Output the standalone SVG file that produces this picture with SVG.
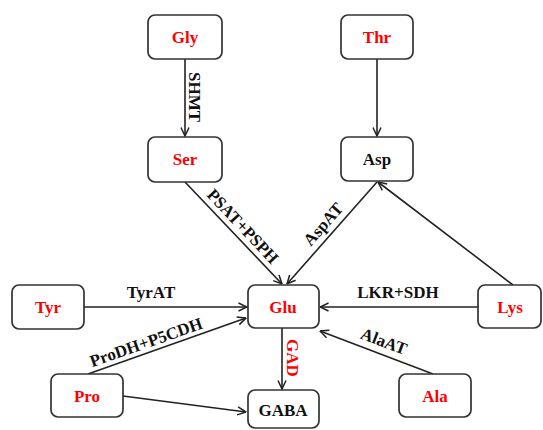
<svg xmlns="http://www.w3.org/2000/svg" width="543" height="430" viewBox="0 0 543 430">
<defs>
<marker id="ah" viewBox="0 0 10 10" refX="9.5" refY="5" markerWidth="10" markerHeight="10" markerUnits="userSpaceOnUse" orient="auto">
<path d="M1,1 L9.5,5 L1,9" fill="none" stroke="#222" stroke-width="1.5"/>
</marker>
<style>
.box{fill:#fff;stroke:#333;stroke-width:1.7}
.t{font-family:"Liberation Serif","Times New Roman",serif;font-weight:bold;font-size:17px;text-anchor:middle}
.red{fill:#ff0000}
.blk{fill:#111}
.e{stroke:#222;stroke-width:1.6;fill:none;marker-end:url(#ah)}
</style>
</defs>
<rect width="543" height="430" fill="#fff"/>
<g id="connectors">
<line class="e" x1="185" y1="59" x2="185" y2="136"/>
<line class="e" x1="377" y1="59" x2="377" y2="136"/>
<line class="e" x1="185" y1="182" x2="282" y2="284"/>
<line class="e" x1="377" y1="182" x2="287" y2="284"/>
<line class="e" x1="513" y1="285" x2="378" y2="182"/>
<line class="e" x1="84" y1="307" x2="247" y2="307"/>
<line class="e" x1="478" y1="307" x2="320" y2="307"/>
<line class="e" x1="88" y1="374" x2="246" y2="318"/>
<line class="e" x1="123" y1="396" x2="246" y2="412"/>
<line class="e" x1="433" y1="374" x2="320" y2="331"/>
<line class="e" x1="282" y1="328" x2="282" y2="389"/>
<text class="t blk" transform="translate(195,97) rotate(90)" y="6">SHMT</text>
<text class="t blk" transform="translate(243,226) rotate(46.7)" y="6">PSAT+PSPH</text>
<text class="t blk" transform="translate(323,224) rotate(-48.8)" y="6">AspAT</text>
<text class="t blk" x="151" y="298">TyrAT</text>
<text class="t blk" x="398" y="298">LKR+SDH</text>
<text class="t blk" transform="translate(146,342) rotate(-19.3)" y="6">ProDH+P5CDH</text>
<text class="t blk" transform="translate(384,341) rotate(20.7)" y="6">AlaAT</text>
<text class="t red" transform="translate(293,358) rotate(90)" y="6">GAD</text>
</g>
<g id="Gly"><rect class="box" x="148" y="15" width="74" height="44" rx="7"/><text class="t red" x="185" y="43">Gly</text></g>
<g id="Thr"><rect class="box" x="341" y="15" width="72" height="44" rx="7"/><text class="t red" x="377" y="43">Thr</text></g>
<g id="Ser"><rect class="box" x="148" y="137" width="74" height="45" rx="7"/><text class="t red" x="185" y="165">Ser</text></g>
<g id="Asp"><rect class="box" x="341" y="137" width="72" height="44" rx="7"/><text class="t blk" x="377" y="165">Asp</text></g>
<g id="Tyr"><rect class="box" x="12" y="285" width="72" height="44" rx="7"/><text class="t red" x="48" y="313">Tyr</text></g>
<g id="Glu"><rect class="box" x="248" y="285" width="71" height="43" rx="7"/><text class="t red" x="283" y="313">Glu</text></g>
<g id="Lys"><rect class="box" x="478" y="285" width="63" height="43" rx="7"/><text class="t red" x="510" y="313">Lys</text></g>
<g id="Pro"><rect class="box" x="51" y="374" width="72" height="43" rx="7"/><text class="t red" x="87" y="402">Pro</text></g>
<g id="GABA"><rect class="box" x="248" y="390" width="71" height="38" rx="7"/><text class="t blk" x="283" y="416">GABA</text></g>
<g id="Ala"><rect class="box" x="399" y="374" width="72" height="43" rx="7"/><text class="t red" x="435" y="402">Ala</text></g>
</svg>
